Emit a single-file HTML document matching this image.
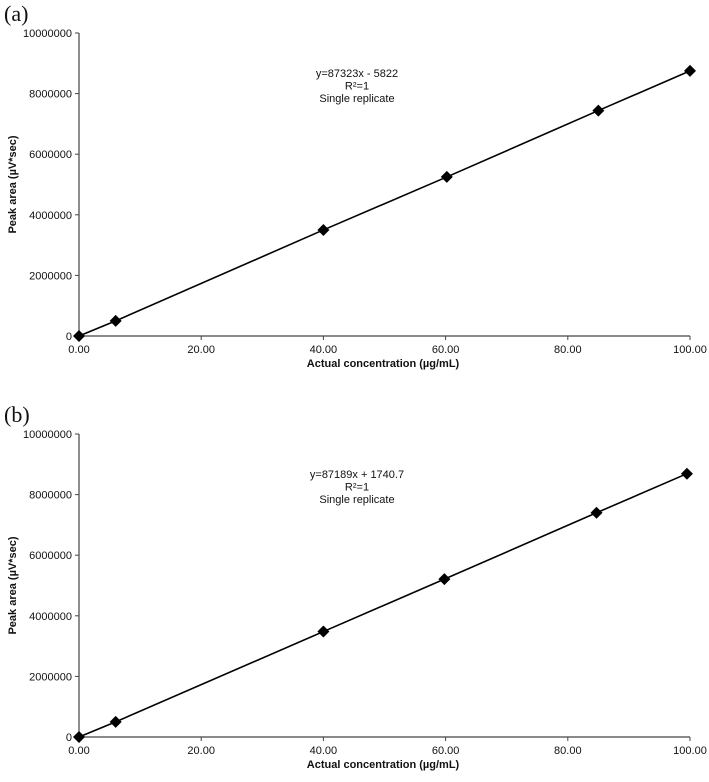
<!DOCTYPE html>
<html><head><meta charset="utf-8"><style>
body{margin:0;background:#fff}
svg text{font-family:"Liberation Sans",sans-serif;fill:#111}
</style></head><body>
<svg id="s" width="709" height="777"></svg>
<script>
const xTicks=[0,20,40,60,80,100];
const xTickLabels=["0.00","20.00","40.00","60.00","80.00","100.00"];
const yTicks=[0,2000000,4000000,6000000,8000000,10000000];
const yTickLabels=["0","2000000","4000000","6000000","8000000","10000000"];
const aX=[0,6,40,60.2,85,100];
const aY=[0,500000,3500000,5250000,7440000,8750000];
const bX=[0,6,40,59.8,84.7,99.5];
const bY=[0,500000,3480000,5210000,7400000,8690000];
const aEq=["y=87323x - 5822","R²=1","Single replicate"];
const bEq=["y=87189x + 1740.7","R²=1","Single replicate"];
const NS="http://www.w3.org/2000/svg";
const svg=document.getElementById('s');
function mk(t,a,p){const e=document.createElementNS(NS,t);for(const k in a)e.setAttribute(k,a[k]);(p||svg).appendChild(e);return e;}
function panel(label,top,bottom,xs,ys,eq,name){
  const g=mk('g',{});
  
  
  const x0=79,x1=690;
  const sx=v=>x0+(v/100)*(x1-x0);
  const sy=v=>bottom-(v/10000000)*(bottom-top);
  let t=mk('text',{x:4,y:top-12,'font-size':22,style:'font-family:"Liberation Serif",serif'},g);t.textContent=label;
  
  let ax=mk('line',{x1:x0,y1:top,x2:x0,y2:bottom,stroke:'#444','stroke-width':1.2},g);
  
  ax=mk('line',{x1:x0,y1:bottom,x2:x1,y2:bottom,stroke:'#444','stroke-width':1.2},g);
  
  yTicks.forEach((v,i)=>{const y=sy(v);mk('line',{x1:x0-4,y1:y,x2:x0,y2:y,stroke:'#444'},g);
    const tt=mk('text',{x:x0-7,y:y+4,'font-size':11,'text-anchor':'end'},g);tt.textContent=yTickLabels[i];
    });
  xTicks.forEach((v,i)=>{const x=sx(v);mk('line',{x1:x,y1:bottom,x2:x,y2:bottom+4,stroke:'#444'},g);
    const tt=mk('text',{x:x,y:bottom+17,'font-size':11,'text-anchor':'middle'},g);tt.textContent=xTickLabels[i];
    });
  const pts=xs.map((v,i)=>sx(v)+','+sy(ys[i])).join(' ');
  const ln=mk('polyline',{points:pts,fill:'none',stroke:'#000','stroke-width':1.6},g);
  
  xs.forEach((v,i)=>{const x=sx(v),y=sy(ys[i]);
    const d=mk('polygon',{points:`${x},${y-6} ${x+6},${y} ${x},${y+6} ${x-6},${y}`,fill:'#000'},g);
    });
  eq.forEach((s,i)=>{const tt=mk('text',{x:357,y:top+44+i*12.5,'font-size':11,'text-anchor':'middle'},g);tt.textContent=s;
    });
  t=mk('text',{x:383,y:bottom+31,'font-size':11,'font-weight':'bold','text-anchor':'middle'},g);t.textContent='Actual concentration (µg/mL)';
  
  const cy=(top+bottom)/2;
  t=mk('text',{x:16,y:cy,'font-size':11,'font-weight':'bold','text-anchor':'middle',transform:`rotate(-90 16 ${cy})`},g);t.textContent='Peak area (µV*sec)';
  
}
panel('(a)',33,336,aX,aY,aEq,'panel-a');
panel('(b)',434,737,bX,bY,bEq,'panel-b');
</script>
</body></html>
